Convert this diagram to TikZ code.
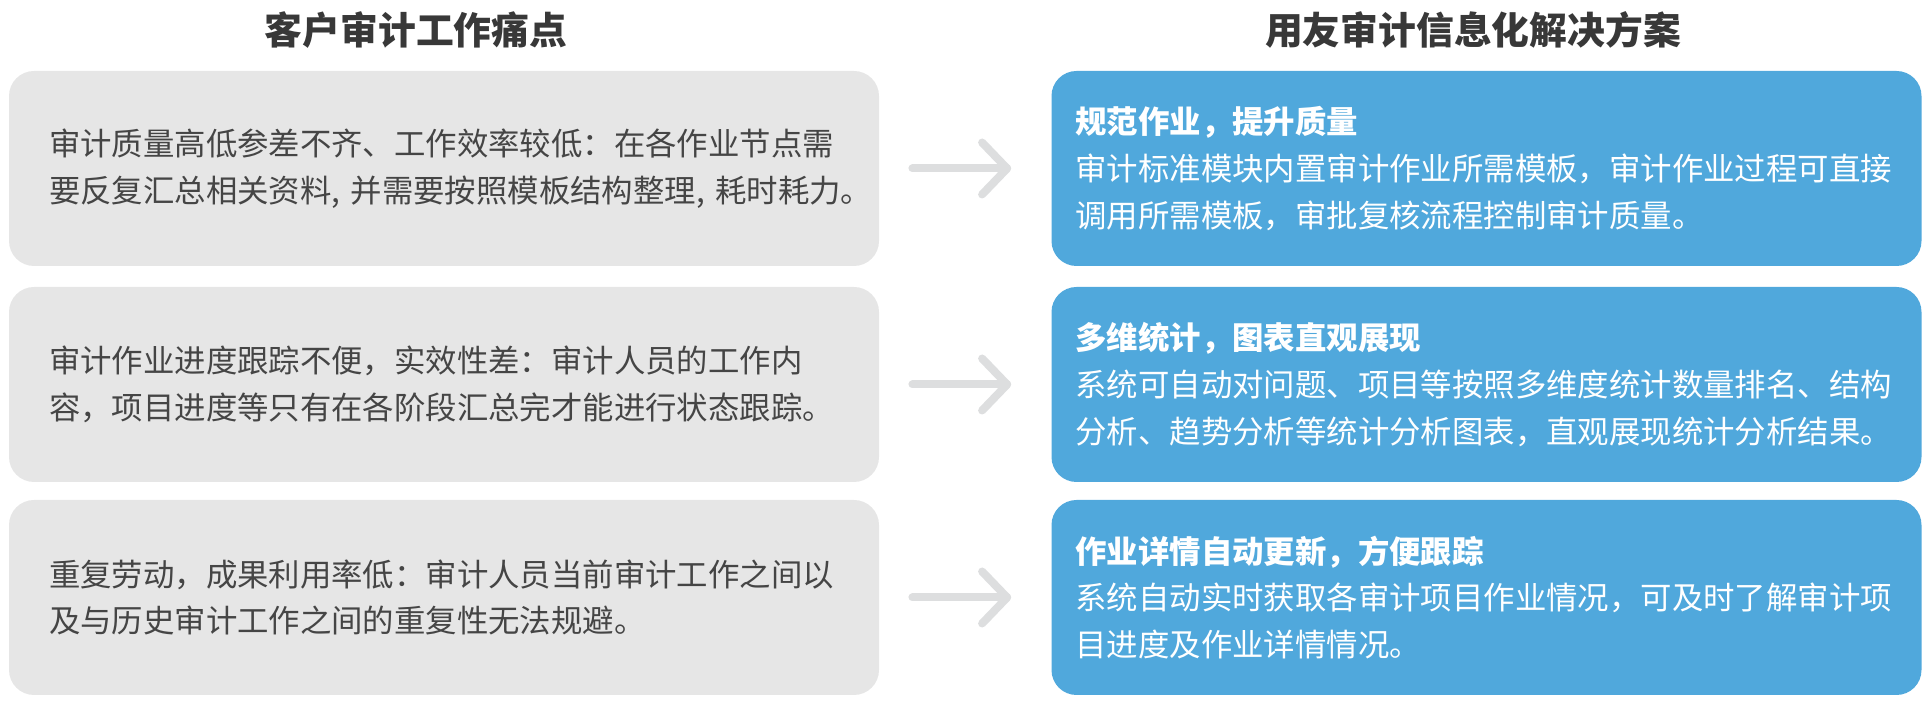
\documentclass[tikz,border=0pt]{standalone}
\usepackage{fontspec}
\setmainfont{Noto Sans CJK SC}
\usetikzlibrary{calc}
\definecolor{boxgray}{HTML}{E6E6E6}
\definecolor{boxblue}{HTML}{50A8DC}
\definecolor{textgray}{HTML}{454545}
\definecolor{titlegray}{HTML}{383838}
\definecolor{arrowgray}{HTML}{DDDEDF}

\begin{document}
\begin{tikzpicture}[x=0.5pt,y=-0.5pt,
    box/.style={rectangle, rounded corners=12.5pt, minimum width=435pt, minimum height=97.5pt,
        inner ysep=0pt, align=left, font=\fontsize{15.7pt}{23.3pt}\selectfont},
    painbox/.style={box, fill=boxgray, text=textgray, text width=395pt, inner xsep=20pt},
    solvebox/.style={box, fill=boxblue, text=white, text width=411pt, inner xsep=12pt},
    headline/.style={font=\bfseries\fontsize{18.9pt}{22pt}\selectfont, text=titlegray},
    arrowline/.style={arrowgray, line width=4pt, line cap=round, line join=round}]
    \useasboundingbox (0,0) rectangle (1928,704);

    % titles
    \node[headline] (paintitle) at (416,30) {客户审计工作痛点};
    \node[headline] (solvetitle) at (1473,30) {用友审计信息化解决方案};

    % left column
    \node[painbox] (pain1) at (444,168.5) {审计质量高低参差不齐、工作效率较低：在各作业节点需\\要反复汇总相关资料,~并需要按照模板结构整理,~耗时耗力。};
    \node[painbox] (pain2) at (444,384.5) {审计作业进度跟踪不便，实效性差：审计人员的工作内\\容，项目进度等只有在各阶段汇总完才能进行状态跟踪。};
    \node[painbox] (pain3) at (444,597.5) {重复劳动，成果利用率低：审计人员当前审计工作之间以\\及与历史审计工作之间的重复性无法规避。};

    % right column
    \node[solvebox] (solve1) at (1486.5,168.5) {{\bfseries 规范作业，提升质量}\\审计标准模块内置审计作业所需模板，审计作业过程可直接\\调用所需模板，审批复核流程控制审计质量。\\[4pt]};
    \node[solvebox] (solve2) at (1486.5,384.5) {{\bfseries 多维统计，图表直观展现}\\系统可自动对问题、项目等按照多维度统计数量排名、结构\\分析、趋势分析等统计分析图表，直观展现统计分析结果。\\[4pt]};
    \node[solvebox] (solve3) at (1486.5,597.5) {{\bfseries 作业详情自动更新，方便跟踪}\\系统自动实时获取各审计项目作业情况，可及时了解审计项\\目进度及作业详情情况。\\[4pt]};

    % arrows
    \foreach \i in {1,2,3} {
        \coordinate (from\i) at ([xshift=16.5pt]pain\i.east);
        \coordinate (to\i) at ([xshift=-22pt]solve\i.west);
        \draw[arrowline] (from\i) -- (to\i);
        \draw[arrowline] ($(to\i)+(-25,-26)$) -- (to\i) -- ($(to\i)+(-25,26)$);
    }
\end{tikzpicture}
\end{document}
